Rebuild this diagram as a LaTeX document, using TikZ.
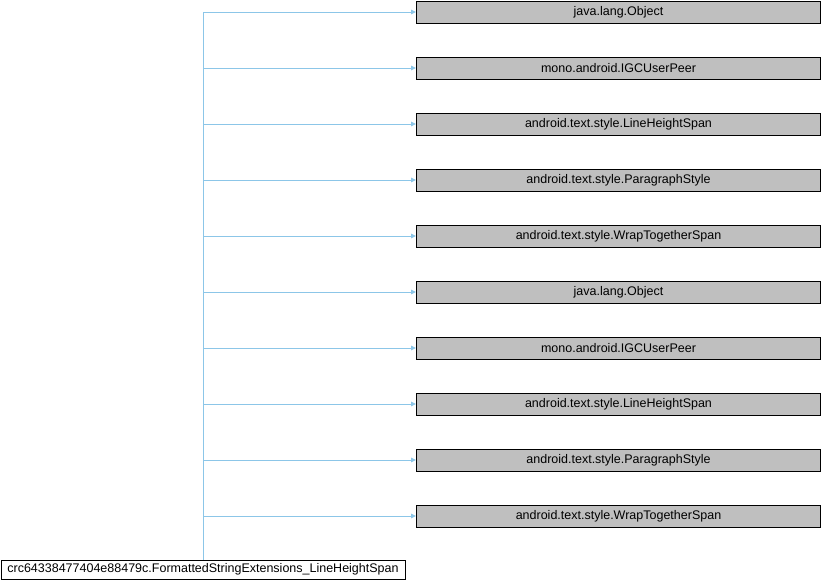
\documentclass[tikz,border=0pt]{standalone}
\usepackage{fontspec}
\setmainfont{Liberation Sans}
\usetikzlibrary{arrows.meta}
\definecolor{edgeblue}{RGB}{140,198,232}
\definecolor{boxgray}{RGB}{191,191,191}
\tikzset{
  base/.style={draw=black, line width=0.9pt, inner sep=0pt, font=\fontsize{12.5}{14}\selectfont},
  parentbox/.style={base, fill=boxgray, minimum width=404pt, minimum height=22pt},
  childbox/.style={base, fill=white, minimum width=404pt, minimum height=19pt},
  inh/.style={draw=edgeblue, line width=0.9pt, -{Triangle[length=5pt,width=4.5pt]}}
}
\begin{document}
\begin{tikzpicture}[x=1pt,y=1pt]
\useasboundingbox (0,0) rectangle (822,-584);
\node[childbox] (c) at (203,-569.5) {crc64338477404e88479c.FormattedStringExtensions\_LineHeightSpan};
\node[parentbox] (p1) at (618.5,-12) {java.lang.Object};
\node[parentbox] (p2) at (618.5,-68) {mono.android.IGCUserPeer};
\node[parentbox] (p3) at (618.5,-124) {android.text.style.LineHeightSpan};
\node[parentbox] (p4) at (618.5,-180) {android.text.style.ParagraphStyle};
\node[parentbox] (p5) at (618.5,-236) {android.text.style.WrapTogetherSpan};
\node[parentbox] (p6) at (618.5,-292) {java.lang.Object};
\node[parentbox] (p7) at (618.5,-348) {mono.android.IGCUserPeer};
\node[parentbox] (p8) at (618.5,-404) {android.text.style.LineHeightSpan};
\node[parentbox] (p9) at (618.5,-460) {android.text.style.ParagraphStyle};
\node[parentbox] (p10) at (618.5,-516) {android.text.style.WrapTogetherSpan};
\foreach \i in {1,...,10} {
  \draw[inh] (c.north) |- (p\i.west);
}
\end{tikzpicture}
\end{document}
